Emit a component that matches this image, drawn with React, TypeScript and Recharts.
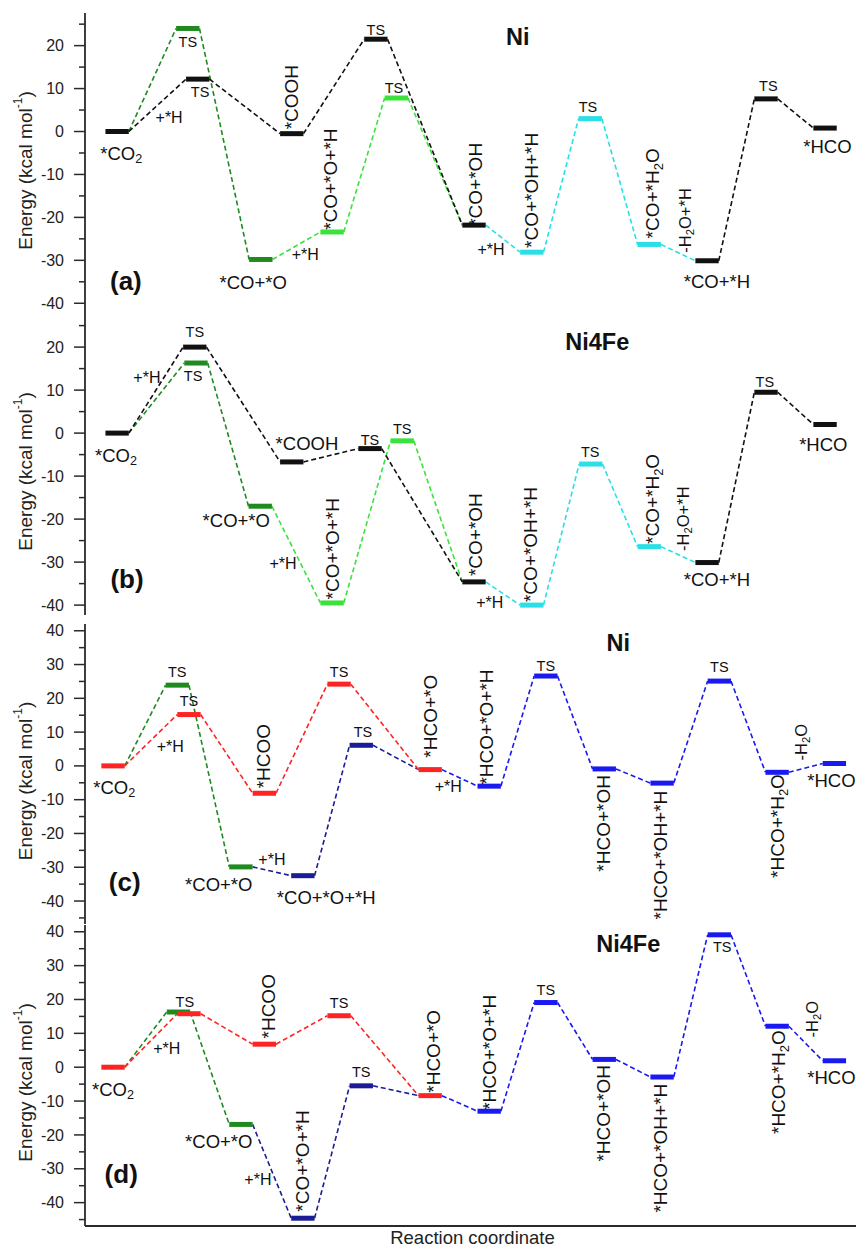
import { ComposedChart, Line, XAxis, YAxis, ReferenceDot, Label } from 'recharts'

// reaction coordinate runs 0..XMAX across the plot, levels are drawn HW wide on each side
const XMAX = 13.2
const HW = 0.2

type Lvl = { x: number; e: number; r: string }
type Edge = [number, number, string]
type Tag = { t: string; x: number; e: number; k: string }

// ---- (a) Ni, COOH / CO+O routes ----
const aLevels: Lvl[] = [
  { x: 0.55, e: 0, r: 'k' },
  { x: 1.76, e: 24.0, r: 'g' },
  { x: 1.93, e: 12.2, r: 'k' },
  { x: 3.01, e: -29.8, r: 'g' },
  { x: 3.54, e: -0.5, r: 'k' },
  { x: 4.23, e: -23.4, r: 'l' },
  { x: 4.98, e: 21.5, r: 'k' },
  { x: 5.33, e: 7.8, r: 'l' },
  { x: 6.66, e: -21.8, r: 'k' },
  { x: 7.65, e: -28.1, r: 'c' },
  { x: 8.65, e: 3.0, r: 'c' },
  { x: 9.66, e: -26.3, r: 'c' },
  { x: 10.65, e: -30.1, r: 'k' },
  { x: 11.66, e: 7.6, r: 'k' },
  { x: 12.67, e: 0.8, r: 'k' },
]
const aEdges: Edge[] = [
  [0, 1, 'g'], [1, 3, 'g'], [3, 5, 'l'], [5, 7, 'l'], [7, 8, 'l'],
  [0, 2, 'k'], [2, 4, 'k'], [4, 6, 'k'], [6, 8, 'k'],
  [8, 9, 'c'], [9, 10, 'c'], [10, 11, 'c'], [11, 12, 'c'], [12, 13, 'k'], [13, 14, 'k'],
]
const aLabels: Tag[] = [
  { t: '*CO_2', x: 0.62, e: -4.9, k: 'lvl' },
  { t: 'TS', x: 1.76, e: 20.8, k: 'ts' },
  { t: 'TS', x: 1.97, e: 9.2, k: 'ts' },
  { t: '+*H', x: 1.44, e: 3.3, k: 'h' },
  { t: '*COOH', x: 3.54, e: 8.0, k: 'v' },
  { t: '*CO+*O+*H', x: 4.21, e: -11.1, k: 'v' },
  { t: '*CO+*O', x: 2.88, e: -35.1, k: 'lvl' },
  { t: '+*H', x: 3.77, e: -28.6, k: 'h' },
  { t: 'TS', x: 4.98, e: 23.6, k: 'ts' },
  { t: 'TS', x: 5.29, e: 10.1, k: 'ts' },
  { t: '(a)', x: 0.7, e: -34.9, k: 'tag' },
  { t: 'Ni', x: 7.41, e: 22, k: 'title' },
  { t: '*CO+*OH', x: 6.68, e: -12.3, k: 'v' },
  { t: '+*H', x: 6.95, e: -27.4, k: 'h' },
  { t: '*CO+*OH+*H', x: 7.64, e: -13.7, k: 'v' },
  { t: 'TS', x: 8.61, e: 5.7, k: 'ts' },
  { t: '*CO+*H_2O', x: 9.71, e: -14.4, k: 'v' },
  { t: '-H_2O+*H', x: 10.27, e: -20.7, k: 'vs' },
  { t: '*CO+*H', x: 10.82, e: -34.9, k: 'lvl' },
  { t: 'TS', x: 11.7, e: 10.5, k: 'ts' },
  { t: '*HCO', x: 12.71, e: -3.4, k: 'lvl' },
]
const aTicks = [-40, -35, -30, -25, -20, -15, -10, -5, 0, 5, 10, 15, 20, 25]

// ---- (b) Ni4Fe, COOH / CO+O routes ----
const bLevels: Lvl[] = [
  { x: 0.55, e: 0, r: 'k' },
  { x: 1.88, e: 20.0, r: 'k' },
  { x: 1.9, e: 16.3, r: 'g' },
  { x: 3.0, e: -17.0, r: 'g' },
  { x: 3.54, e: -6.7, r: 'k' },
  { x: 4.23, e: -39.5, r: 'l' },
  { x: 4.88, e: -3.6, r: 'k' },
  { x: 5.43, e: -1.8, r: 'l' },
  { x: 6.66, e: -34.6, r: 'k' },
  { x: 7.65, e: -40.0, r: 'c' },
  { x: 8.66, e: -7.2, r: 'c' },
  { x: 9.66, e: -26.4, r: 'c' },
  { x: 10.65, e: -30.1, r: 'k' },
  { x: 11.66, e: 9.5, r: 'k' },
  { x: 12.67, e: 2.0, r: 'k' },
]
const bEdges: Edge[] = [
  [0, 2, 'g'], [2, 3, 'g'], [3, 5, 'l'], [5, 7, 'l'], [7, 8, 'l'],
  [0, 1, 'k'], [1, 4, 'k'], [4, 6, 'k'], [6, 8, 'k'],
  [8, 9, 'c'], [9, 10, 'c'], [10, 11, 'c'], [11, 12, 'c'], [12, 13, 'k'], [13, 14, 'k'],
]
const bLabels: Tag[] = [
  { t: 'TS', x: 1.88, e: 23.4, k: 'ts' },
  { t: '+*H', x: 1.06, e: 13.0, k: 'h' },
  { t: 'TS', x: 1.85, e: 13.2, k: 'ts' },
  { t: '*CO_2', x: 0.53, e: -5.0, k: 'lvl' },
  { t: '*COOH', x: 3.8, e: -2.4, k: 'lvl' },
  { t: 'TS', x: 4.88, e: -1.5, k: 'ts' },
  { t: 'TS', x: 5.43, e: 0.9, k: 'ts' },
  { t: '*CO+*O', x: 2.59, e: -20.4, k: 'lvl' },
  { t: '*CO+*O+*H', x: 4.23, e: -26.9, k: 'v' },
  { t: '+*H', x: 3.39, e: -30.4, k: 'h' },
  { t: '(b)', x: 0.72, e: -33.9, k: 'tag' },
  { t: 'Ni4Fe', x: 8.77, e: 21.1, k: 'title' },
  { t: '*CO+*OH', x: 6.68, e: -23.6, k: 'v' },
  { t: '+*H', x: 6.93, e: -39.3, k: 'h' },
  { t: '*CO+*OH+*H', x: 7.62, e: -25.9, k: 'v' },
  { t: 'TS', x: 8.65, e: -4.5, k: 'ts' },
  { t: '*CO+*H_2O', x: 9.71, e: -15.3, k: 'v' },
  { t: '-H_2O+*H', x: 10.24, e: -19.9, k: 'vs' },
  { t: '*CO+*H', x: 10.82, e: -34.1, k: 'lvl' },
  { t: 'TS', x: 11.64, e: 11.8, k: 'ts' },
  { t: '*HCO', x: 12.64, e: -2.6, k: 'lvl' },
]
const bTicks = [-40, -35, -30, -25, -20, -15, -10, -5, 0, 5, 10, 15, 20, 25]

// ---- (c) Ni, HCOO / HCO routes ----
const cLevels: Lvl[] = [
  { x: 0.48, e: 0, r: 'r' },
  { x: 1.58, e: 23.9, r: 'g' },
  { x: 1.78, e: 15.2, r: 'r' },
  { x: 2.67, e: -29.9, r: 'g' },
  { x: 3.07, e: -8.1, r: 'r' },
  { x: 3.73, e: -32.5, r: 'n' },
  { x: 4.35, e: 24.2, r: 'r' },
  { x: 4.73, e: 6.1, r: 'n' },
  { x: 5.91, e: -1.1, r: 'r' },
  { x: 6.92, e: -6.0, r: 'b' },
  { x: 7.89, e: 26.6, r: 'b' },
  { x: 8.89, e: -0.9, r: 'b' },
  { x: 9.88, e: -5.1, r: 'b' },
  { x: 10.86, e: 25.1, r: 'b' },
  { x: 11.85, e: -1.9, r: 'b' },
  { x: 12.83, e: 0.7, r: 'b' },
]
const cEdges: Edge[] = [
  [0, 1, 'g'], [1, 3, 'g'], [3, 5, 'n'], [5, 7, 'n'], [7, 8, 'n'],
  [0, 2, 'r'], [2, 4, 'r'], [4, 6, 'r'], [6, 8, 'r'],
  [8, 9, 'b'], [9, 10, 'b'], [10, 11, 'b'], [11, 12, 'b'], [12, 13, 'b'], [13, 14, 'b'], [14, 15, 'b'],
]
const cLabels: Tag[] = [
  { t: 'TS', x: 1.58, e: 27.7, k: 'ts' },
  { t: 'TS', x: 1.78, e: 19.1, k: 'ts' },
  { t: '+*H', x: 1.46, e: 5.8, k: 'h' },
  { t: '*CO_2', x: 0.5, e: -6.3, k: 'lvl' },
  { t: '*HCOO', x: 3.05, e: 2.9, k: 'v' },
  { t: 'TS', x: 4.35, e: 27.7, k: 'ts' },
  { t: 'TS', x: 4.76, e: 10.0, k: 'ts' },
  { t: '*CO+*O', x: 2.29, e: -35.0, k: 'lvl' },
  { t: '+*H', x: 3.2, e: -27.6, k: 'h' },
  { t: '*CO+*O+*H', x: 4.13, e: -39.1, k: 'lvl' },
  { t: '(c)', x: 0.68, e: -34.4, k: 'tag' },
  { t: '*HCO+*O', x: 5.91, e: 14.7, k: 'v' },
  { t: 'Ni', x: 9.13, e: 36.3, k: 'title' },
  { t: '+*H', x: 6.22, e: -6.0, k: 'h' },
  { t: '*HCO+*O+*H', x: 6.88, e: 11.5, k: 'v' },
  { t: 'TS', x: 7.89, e: 29.5, k: 'ts' },
  { t: '*HCO+*OH', x: 8.87, e: -17.0, k: 'v' },
  { t: '*HCO+*OH+*H', x: 9.85, e: -26.4, k: 'v' },
  { t: 'TS', x: 10.86, e: 29.2, k: 'ts' },
  { t: '*HCO+*H_2O', x: 11.85, e: -17.8, k: 'v' },
  { t: '-H_2O', x: 12.26, e: 7.0, k: 'vs' },
  { t: '*HCO', x: 12.78, e: -4.2, k: 'lvl' },
]
const cTicks = [-45, -40, -35, -30, -25, -20, -15, -10, -5, 0, 5, 10, 15, 20, 25, 30, 35, 40]

// ---- (d) Ni4Fe, HCOO / HCO routes ----
const dLevels: Lvl[] = [
  { x: 0.48, e: 0, r: 'r' },
  { x: 1.6, e: 16.3, r: 'g' },
  { x: 1.78, e: 15.8, r: 'r' },
  { x: 2.67, e: -16.9, r: 'g' },
  { x: 3.07, e: 6.8, r: 'r' },
  { x: 3.73, e: -44.6, r: 'n' },
  { x: 4.35, e: 15.2, r: 'r' },
  { x: 4.73, e: -5.5, r: 'n' },
  { x: 5.91, e: -8.4, r: 'r' },
  { x: 6.92, e: -13.0, r: 'b' },
  { x: 7.89, e: 19.1, r: 'b' },
  { x: 8.89, e: 2.3, r: 'b' },
  { x: 9.88, e: -2.9, r: 'b' },
  { x: 10.86, e: 39.1, r: 'b' },
  { x: 11.85, e: 12.1, r: 'b' },
  { x: 12.83, e: 1.9, r: 'b' },
]
const dEdges: Edge[] = [
  [0, 1, 'g'], [1, 3, 'g'], [3, 5, 'n'], [5, 7, 'n'], [7, 8, 'n'],
  [0, 2, 'r'], [2, 4, 'r'], [4, 6, 'r'], [6, 8, 'r'],
  [8, 9, 'b'], [9, 10, 'b'], [10, 11, 'b'], [11, 12, 'b'], [12, 13, 'b'], [13, 14, 'b'], [14, 15, 'b'],
]
const dLabels: Tag[] = [
  { t: 'TS', x: 1.71, e: 19.4, k: 'ts' },
  { t: '+*H', x: 1.4, e: 5.6, k: 'h' },
  { t: '*CO_2', x: 0.48, e: -6.5, k: 'lvl' },
  { t: '*HCOO', x: 3.15, e: 18.0, k: 'v' },
  { t: 'TS', x: 4.35, e: 18.9, k: 'ts' },
  { t: 'TS', x: 4.73, e: -1.5, k: 'ts' },
  { t: '*CO+*O', x: 2.29, e: -21.8, k: 'lvl' },
  { t: '+*H', x: 2.96, e: -33.3, k: 'h' },
  { t: '*CO+*O+*H', x: 3.73, e: -27.7, k: 'v' },
  { t: '(d)', x: 0.62, e: -31.6, k: 'tag' },
  { t: '*HCO+*O', x: 5.96, e: 4.7, k: 'v' },
  { t: 'Ni4Fe', x: 9.3, e: 36.3, k: 'title' },
  { t: '*HCO+*O+*H', x: 6.93, e: 4.4, k: 'v' },
  { t: 'TS', x: 7.89, e: 22.7, k: 'ts' },
  { t: '*HCO+*OH', x: 8.87, e: -13.6, k: 'v' },
  { t: '*HCO+*OH+*H', x: 9.85, e: -23.9, k: 'v' },
  { t: 'TS', x: 10.91, e: 35.4, k: 'ts' },
  { t: '*HCO+*H_2O', x: 11.87, e: -4.4, k: 'v' },
  { t: '-H_2O', x: 12.45, e: 14.2, k: 'vs' },
  { t: '*HCO', x: 12.78, e: -2.9, k: 'lvl' },
]
const dTicks = [-45, -40, -35, -30, -25, -20, -15, -10, -5, 0, 5, 10, 15, 20, 25, 30, 35, 40]

const COLORS: Record<string, string> = {
  k: '#111111',
  g: '#1f8a1f',
  l: '#3be23b',
  c: '#2adfe6',
  r: '#ff2424',
  n: '#1c1c96',
  b: '#1a1af0',
}

const FONT = '"Liberation Sans", Arial, Helvetica, sans-serif'
const TAG_STYLE: Record<string, { size: number; bold?: boolean; rot?: boolean }> = {
  lvl: { size: 18.5 },
  ts: { size: 14.5 },
  h: { size: 16 },
  v: { size: 19, rot: true },
  vs: { size: 16.5, rot: true },
  title: { size: 23.5, bold: true },
  tag: { size: 26, bold: true },
}
const FRAME = { stroke: '#2a2a2a', strokeWidth: 1.8 }

function withSub(t: string, fs: number) {
  const i = t.indexOf('_')
  if (i < 0) return t
  const d = Math.round(fs * 0.3)
  const rest = t.slice(i + 2)
  return [
    <tspan key="a">{t.slice(0, i)}</tspan>,
    <tspan key="b" dy={d} fontSize={fs * 0.68}>{t[i + 1]}</tspan>,
    rest ? <tspan key="c" dy={-d}>{rest}</tspan> : null,
  ]
}

function TagText({ cx, cy, tag }: { cx: number; cy: number; tag: Tag }) {
  const st = TAG_STYLE[tag.k]
  return (
    <text
      x={cx}
      y={cy}
      textAnchor="middle"
      dominantBaseline="central"
      fontFamily={FONT}
      fontSize={st.size}
      fontWeight={st.bold ? 'bold' : 'normal'}
      fill="#111"
      transform={st.rot ? `rotate(-90 ${cx} ${cy})` : undefined}
    >
      {withSub(tag.t, st.size)}
    </text>
  )
}

function EnergyTick(props: any) {
  const { x, y, payload } = props
  const v = payload.value
  const major = v % 10 === 0
  return (
    <g>
      <line x1={x - (major ? 11 : 6)} x2={x} y1={y} y2={y} stroke="#2a2a2a" strokeWidth={1.5} />
      {major && (
        <text x={x - 21} y={y} dy="0.35em" textAnchor="end" fontFamily={FONT} fontSize={16} fill="#222">
          {v}
        </text>
      )}
    </g>
  )
}

function YTitle(props: any) {
  const vb = props.viewBox
  const cx = vb.x + 25
  const cy = vb.y + vb.height / 2 + 7
  return (
    <text
      x={cx}
      y={cy}
      textAnchor="middle"
      dominantBaseline="central"
      fontFamily={FONT}
      fontSize={19}
      fill="#222"
      transform={`rotate(-90 ${cx} ${cy})`}
    >
      Energy (kcal mol<tspan dy={-7} fontSize={12}>-1</tspan>
      <tspan dy={7}>)</tspan>
    </text>
  )
}

function XTitle(props: any) {
  const vb = props.viewBox
  return (
    <text x={vb.x + vb.width / 2 + 2} y={vb.y + 18} textAnchor="middle" fontFamily={FONT} fontSize={18.5} fill="#222">
      Reaction coordinate
    </text>
  )
}

type PanelProps = {
  top: number
  plotH: number
  domain: [number, number]
  ticks: number[]
  levels: Lvl[]
  edges: Edge[]
  labels: Tag[]
  xTitle?: boolean
}

function Panel({ top, plotH, domain, ticks, levels, edges, labels, xTitle }: PanelProps) {
  const axisH = xTitle ? 21 : 0
  const height = 10 + plotH + (xTitle ? 21 : 10)
  return (
    <div style={{ position: 'absolute', left: 0, top: top - 10, width: 856, height }}>
      <ComposedChart
        width={856}
        height={height}
        margin={{ top: 10, right: 0, bottom: xTitle ? 0 : 10, left: 0 }}
      >
        <XAxis
          type="number"
          dataKey="x"
          domain={[0, XMAX]}
          allowDataOverflow
          tick={false}
          tickLine={false}
          height={axisH}
          axisLine={FRAME}
        >
          {xTitle && <Label content={XTitle} />}
        </XAxis>
        <XAxis
          xAxisId="top"
          orientation="top"
          type="number"
          dataKey="x"
          domain={[0, XMAX]}
          allowDataOverflow
          tick={false}
          tickLine={false}
          height={0}
          axisLine={FRAME}
        />
        <YAxis
          type="number"
          domain={domain}
          allowDataOverflow
          ticks={ticks}
          interval={0}
          tick={<EnergyTick />}
          tickLine={false}
          tickSize={0}
          tickMargin={0}
          width={85}
          axisLine={FRAME}
        >
          <Label content={YTitle} />
        </YAxis>
        {edges.map(([a, b, r], i) => (
          <Line
            key={`e${i}`}
            data={[
              { x: levels[a].x + HW, e: levels[a].e },
              { x: levels[b].x - HW, e: levels[b].e },
            ]}
            dataKey="e"
            type="linear"
            stroke={COLORS[r]}
            strokeWidth={1.6}
            strokeDasharray="5 3"
            dot={false}
            activeDot={false}
            legendType="none"
            isAnimationActive={false}
          />
        ))}
        {levels.map((l, i) => (
          <Line
            key={`l${i}`}
            data={[
              { x: l.x - HW, e: l.e },
              { x: l.x + HW, e: l.e },
            ]}
            dataKey="e"
            type="linear"
            stroke={COLORS[l.r]}
            strokeWidth={5}
            strokeLinecap="butt"
            dot={false}
            activeDot={false}
            legendType="none"
            isAnimationActive={false}
          />
        ))}
        {labels.map((t, i) => (
          <ReferenceDot
            key={`t${i}`}
            x={t.x}
            y={t.e}
            r={1}
            ifOverflow="visible"
            shape={(p: any) => <TagText cx={p.cx} cy={p.cy} tag={t} />}
          />
        ))}
      </ComposedChart>
    </div>
  )
}

export default function App() {
  return (
    <div
      style={{
        position: 'absolute',
        left: 0,
        top: 0,
        width: 856,
        height: 1247,
        overflow: 'hidden',
        background: '#fff',
        fontFamily: FONT,
      }}
    >
      <Panel top={13} plotH={301} domain={[-42.5, 27.6]} ticks={aTicks} levels={aLevels} edges={aEdges} labels={aLabels} />
      <Panel top={314} plotH={301} domain={[-42.3, 27.7]} ticks={bTicks} levels={bLevels} edges={bEdges} labels={bLabels} />
      <Panel top={624} plotH={300} domain={[-46.8, 42]} ticks={cTicks} levels={cLevels} edges={cEdges} labels={cLabels} />
      <Panel top={925} plotH={301} domain={[-46.9, 42]} ticks={dTicks} levels={dLevels} edges={dEdges} labels={dLabels} xTitle />
    </div>
  )
}
